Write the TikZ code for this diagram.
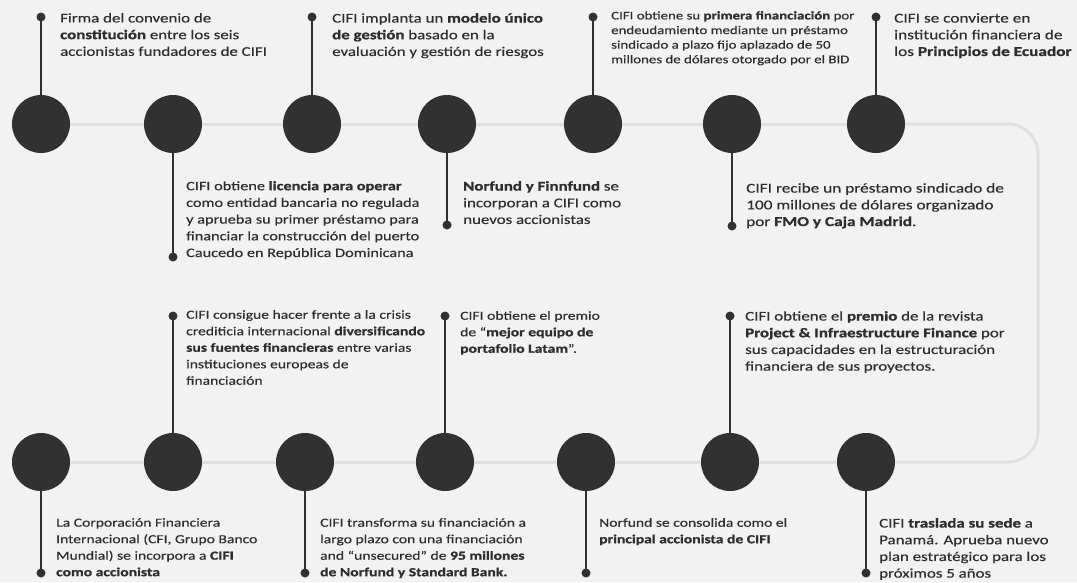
\documentclass[tikz,border=0pt]{standalone}
\usepackage{fontspec}
\setmainfont{Carlito}[FakeStretch=1.27,UprightFeatures={FakeBold=0.4},BoldFeatures={FakeBold=1.0}]
\definecolor{bgc}{HTML}{F2F2F2}
\definecolor{dotc}{HTML}{313131}
\definecolor{txtc}{HTML}{2E2E2E}
\definecolor{linec}{HTML}{E0E0E0}
\begin{document}
\begin{tikzpicture}[x=1pt,y=-1pt,
  ev/.style={circle,fill=dotc,minimum size=58pt,inner sep=0pt},
  tipdot/.style={circle,fill=dotc,minimum size=9pt,inner sep=0pt},
  stem/.style={draw=dotc,line width=1.4pt},
  conn/.style={draw=linec,line width=3pt},
  txt/.style={text=txtc,font=\fontsize{13.3}{16.7}\selectfont,align=left,inner sep=0pt,anchor=north west},
  bigtxt/.style={txt,font=\fontsize{13.6}{16.7}\selectfont},
  midtxt/.style={txt,font=\fontsize{12.8}{16.7}\selectfont},
  lowtxt/.style={txt,font=\fontsize{12.3}{16.5}\selectfont},
  smalltxt/.style={txt,font=\fontsize{11.7}{14.6}\selectfont}]
\fill[bgc] (0,0) rectangle (1077,582);
\useasboundingbox (0,0) rectangle (1077,582);
% top row events
\node[ev] (c1) at (41,124) {};
\node[ev] (c2) at (173,124) {};
\node[ev] (c3) at (312,124) {};
\node[ev] (c4) at (447,124) {};
\node[ev] (c5) at (593,124) {};
\node[ev] (c6) at (732,124) {};
\node[ev] (c7) at (876,124) {};
% bottom row events
\node[ev] (b1) at (41,462) {};
\node[ev] (b2) at (173,462) {};
\node[ev] (b3) at (305,462) {};
\node[ev] (b4) at (445,462) {};
\node[ev] (b5) at (586,462) {};
\node[ev] (b6) at (730,462) {};
\node[ev] (b7) at (866,462) {};
% connectors
\coordinate (r1) at (1038,124);
\coordinate (r2) at (1038,462);
\foreach \a/\b in {c1/c2,c2/c3,c3/c4,c4/c5,c5/c6,c6/c7,b7/b6,b6/b5,b5/b4,b4/b3,b3/b2,b2/b1}
  \draw[conn] (\a) -- (\b);
\draw[conn,rounded corners=30pt] (c7) -- (r1) -- (r2) -- (b7);
% stem end dots
\node[tipdot] (d1) at (41,17) {};
\node[tipdot] (d2) at (173,257) {};
\node[tipdot] (d3) at (312,17) {};
\node[tipdot] (d4) at (447,225) {};
\node[tipdot] (d5) at (593,17) {};
\node[tipdot] (d6) at (732,226) {};
\node[tipdot] (d7) at (876,17) {};
\node[tipdot] (e1) at (41,573) {};
\node[tipdot] (e2) at (173,316) {};
\node[tipdot] (e3) at (305,573) {};
\node[tipdot] (e4) at (445,316) {};
\node[tipdot] (e5) at (586,573) {};
\node[tipdot] (e6) at (730,316) {};
\node[tipdot] (e7) at (866,573) {};
\foreach \a/\b in {c1/d1,c2/d2,c3/d3,c4/d4,c5/d5,c6/d6,c7/d7,b1/e1,b2/e2,b3/e3,b4/e4,b5/e5,b6/e6,b7/e7}
  \draw[stem] (\a) -- (\b.center);
% texts
\node[txt] (t1) at (60,13) {Firma del convenio de\\\textbf{constitución} entre los seis\\accionistas fundadores de CIFI};
\node[midtxt] (t2) at (186,181) {CIFI obtiene \textbf{licencia para operar}\\como entidad bancaria no regulada\\y aprueba su primer préstamo para\\financiar la construcción del puerto\\Caucedo en República Dominicana};
\node[txt] (t3) at (332,13) {CIFI implanta un \textbf{modelo único}\\\textbf{de gestión} basado en la\\evaluación y gestión de riesgos};
\node[txt] (t4) at (463,181) {\textbf{Norfund y Finnfund} se\\incorporan a CIFI como\\nuevos accionistas};
\node[smalltxt] (t5) at (611,11) {CIFI obtiene su \textbf{primera financiación} por\\endeudamiento mediante un préstamo\\sindicado a plazo fijo aplazado de 50\\millones de dólares otorgado por el BID};
\node[bigtxt] (t6) at (746,183) {CIFI recibe un préstamo sindicado de\\100 millones de dólares organizado\\por \textbf{FMO y Caja Madrid}.};
\node[bigtxt] (t7) at (894,13) {CIFI se convierte en\\institución financiera de\\los \textbf{Principios de Ecuador}};
\node[lowtxt] (t8) at (186,310) {CIFI consigue hacer frente a la crisis\\crediticia internacional \textbf{diversificando}\\\textbf{sus fuentes financieras} entre varias\\instituciones europeas de\\financiación};
\node[lowtxt] (t10) at (460,311) {CIFI obtiene el premio\\de “\textbf{mejor equipo de}\\\textbf{portafolio Latam}”.};
\node[txt] (t12) at (745,311) {CIFI obtiene el \textbf{premio} de la revista\\\textbf{Project \& Infraestructure Finance} por\\sus capacidades en la estructuración\\financiera de sus proyectos.};
\node[lowtxt] (t9) at (56,518) {La Corporación Financiera\\Internacional (CFI, Grupo Banco\\Mundial) se incorpora a \textbf{CIFI}\\\textbf{como accionista}};
\node[lowtxt] (t11) at (320,518) {CIFI transforma su financiación a\\largo plazo con una financiación\\and “unsecured” de \textbf{95 millones}\\\textbf{de Norfund y Standard Bank.}};
\node[lowtxt] (t13) at (599,518) {Norfund se consolida como el\\\textbf{principal accionista de CIFI}};
\node[txt] (t14) at (879,518) {CIFI \textbf{traslada su sede} a\\Panamá. Aprueba nuevo\\plan estratégico para los\\próximos 5 años};
\end{tikzpicture}
\end{document}
